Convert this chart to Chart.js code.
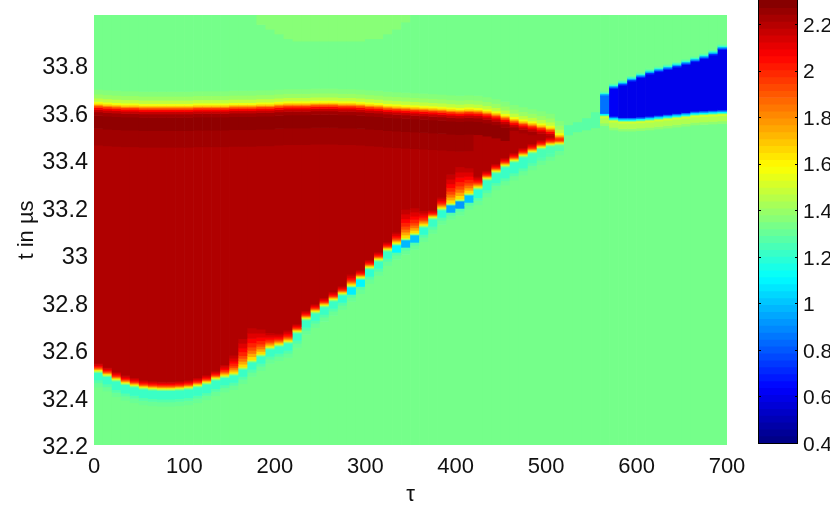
<!DOCTYPE html>
<html>
<head>
<meta charset="utf-8">
<title>t vs tau</title>
<script src="https://cdn.jsdelivr.net/npm/chart.js@4"></script>
<style>
    html, body { margin: 0; background: #fff; overflow: hidden; }
    canvas { position: absolute; top: 0; }
    #mapChart { left: 0; }
    #barChart { left: 745px; }
</style>
</head>
<body>
<canvas id="mapChart" width="745" height="510"></canvas>
<canvas id="barChart" width="85" height="510"></canvas>
<script>
const xTicks = [0, 100, 200, 300, 400, 500, 600, 700];
const yTicks = [32.2, 32.4, 32.6, 32.8, 33, 33.2, 33.4, 33.6, 33.8];
const barTicks = [0.4, 0.6, 0.8, 1, 1.2, 1.4, 1.6, 1.8, 2, 2.2];

const tauColumns = [5, 15, 25, 35, 45, 55, 65, 75, 85, 95, 105, 115, 125, 135, 145, 155, 165, 175, 185, 195,
    205, 215, 225, 235, 245, 255, 265, 275, 285, 295, 305, 315, 325, 335, 345, 355, 365, 375, 385, 395,
    405, 415, 425, 435, 445, 455, 465, 475, 485, 495, 505, 515, 525, 535, 545, 555, 565, 575, 585, 595,
    605, 615, 625, 635, 645, 655, 665, 675, 685, 695];

const backgroundValue = 1.33;

// upper rim of the red region (yellow level), one per column up to the tip
const redTop = [33.632, 33.629, 33.627, 33.625, 33.625, 33.623, 33.623, 33.623, 33.623, 33.623,
    33.623, 33.625, 33.625, 33.625, 33.625, 33.627, 33.627, 33.627, 33.629, 33.629,
    33.632, 33.634, 33.634, 33.634, 33.636, 33.636, 33.636, 33.634, 33.634, 33.632,
    33.629, 33.627, 33.623, 33.621, 33.619, 33.617, 33.615, 33.613, 33.611, 33.608,
    33.606, 33.608, 33.606, 33.600, 33.592, 33.581, 33.568, 33.558, 33.550, 33.541,
    33.531, 33.5];

// lower rim of the red region (yellow level)
const redBottom = [32.514, 32.497, 32.478, 32.463, 32.453, 32.444, 32.44, 32.438, 32.438, 32.44,
    32.444, 32.453, 32.465, 32.482, 32.493, 32.503, 32.528, 32.558, 32.583, 32.613,
    32.625, 32.638, 32.68, 32.735, 32.764, 32.79, 32.815, 32.84, 32.874, 32.907,
    32.95, 32.983, 33.025, 33.051, 33.072, 33.093, 33.126, 33.16, 33.198, 33.219,
    33.236, 33.261, 33.286, 33.324, 33.354, 33.379, 33.4, 33.421, 33.438, 33.455,
    33.467, 33.471];

// how much wider the orange rim is in the staircase steps
const rimSpread = [1, 1, 1, 1, 1, 1, 1, 1, 1, 1,
    1, 1, 1, 1, 1.5, 2.5, 4, 4.5, 3.5, 2,
    1.5, 1.5, 1, 1, 1, 1, 1, 1, 1.5, 1,
    1, 1, 1, 1.5, 4, 3.5, 2, 1, 1.5, 4,
    4.5, 3.5, 1.5, 1, 1, 1, 1, 1, 1, 1,
    1, 1];

// thickness of the cyan strip under the rim, and its value
const cyanDepth = [0.04, 0.04, 0.045, 0.045, 0.045, 0.045, 0.045, 0.045, 0.045, 0.045,
    0.045, 0.045, 0.045, 0.045, 0.04, 0.04, 0.04, 0.04, 0.04, 0.04,
    0.04, 0.04, 0.04, 0.04, 0.04, 0.04, 0.04, 0.04, 0.04, 0.04,
    0.04, 0.04, 0.04, 0.04, 0.04, 0.04, 0.04, 0.04, 0.04, 0.04,
    0.04, 0.04, 0.045, 0.05, 0.05, 0.055, 0.055, 0.055, 0.05, 0.045,
    0.04, 0.02];
const cyanValue = [1.22, 1.22, 1.22, 1.22, 1.22, 1.22, 1.22, 1.22, 1.22, 1.22,
    1.22, 1.22, 1.22, 1.22, 1.22, 1.22, 1.22, 1.22, 1.22, 1.22,
    1.22, 1.22, 1.22, 1.22, 1.22, 1.22, 1.22, 1.2, 1.08, 1.1,
    1.2, 1.22, 1.22, 1.1, 0.98, 1, 1.2, 1.22, 1.2, 0.95,
    0.92, 1, 1.2, 1.22, 1.22, 1.22, 1.22, 1.22, 1.24, 1.25,
    1.26, 1.28];

// value steps above and below the red rims, offsets in t from the rim
const topRampOffsets = [-0.17, -0.10, -0.045, -0.03, -0.02, -0.012, -0.005, 0, 0.006, 0.014, 0.028, 0.045, 0.065];
const topRampValues = [2.24, 2.27, 2.24, 2.17, 2.07, 1.95, 1.82, 1.68, 1.56, 1.47, 1.4, 1.36, 1.33];
const rimRampOffsets = [0.003, 0.006, 0.009, 0.012, 0.016, 0.02, 0.025, 0.03];
const rimRampValues = [1.75, 1.85, 1.93, 2, 2.06, 2.12, 2.17, 2.21];
const bandEndTau = 470;

// blue blob on the right
const blueTaus = [565, 575, 585, 595, 605, 615, 625, 635, 645, 655, 665, 675, 685, 695];
const blueTop = [33.678, 33.712, 33.726, 33.743, 33.758, 33.773, 33.783, 33.792, 33.802, 33.813, 33.825, 33.838, 33.853, 33.876];
const blueBottom = [33.589, 33.571, 33.566, 33.566, 33.568, 33.571, 33.575, 33.579, 33.583, 33.587, 33.592, 33.594, 33.596, 33.598];
const blueCore = [0.85, 0.62, 0.6, 0.6, 0.6, 0.6, 0.6, 0.6, 0.6, 0.6, 0.6, 0.6, 0.6, 0.6];
const blueBelowOffsets = [-0.045, -0.034, -0.012, -0.004, 0, 0.006, 0.012];
const blueBelowValues = [1.38, 1.44, 1.5, 1.32, 1.1, 0.85, 0];
const blueAboveOffsets = [-0.012, -0.006, 0, 0.006, 0.012];
const blueAboveValues = [0.72, 0.95, 1.2, 1.3, 1.33];

// pale teal link between the tip and the blob
const bridgeTaus = [525, 535, 545, 555];
const bridgeLow = [33.505, 33.518, 33.526, 33.535];
const bridgeHigh = [33.547, 33.56, 33.577, 33.602];
const bridgeValue = 1.28;

// faint lighter patch at the very top
const paleTaus = [185, 195, 205, 215, 225, 235, 245, 255, 265, 275, 285, 295, 305, 315, 325, 335, 345];
const paleStart = [33.97, 33.95, 33.93, 33.91, 33.9, 33.9, 33.9, 33.9, 33.9, 33.9, 33.9, 33.9, 33.91, 33.91, 33.93, 33.95, 33.98];
const paleValue = 1.365;

const barEdges = [0.4, 0.43, 0.459, 0.489, 0.519, 0.548, 0.578, 0.608, 0.638, 0.667, 0.697, 0.727, 0.756,
    0.786, 0.816, 0.845, 0.875, 0.905, 0.934, 0.964, 0.994, 1.023, 1.053, 1.083, 1.113, 1.142, 1.172, 1.202,
    1.231, 1.261, 1.291, 1.32, 1.35, 1.38, 1.409, 1.439, 1.469, 1.498, 1.528, 1.558, 1.588, 1.617, 1.647,
    1.677, 1.706, 1.736, 1.766, 1.795, 1.825, 1.855, 1.884, 1.914, 1.944, 1.973, 2.003, 2.033, 2.063, 2.092,
    2.122, 2.152, 2.181, 2.211, 2.241, 2.27, 2.303];

const Y_MIN = 32.2;
const Y_MAX = 34.01;
const FAMILY = '"Liberation Sans", Arial, sans-serif';

function jetColor(v) {
    const t = Math.min(1, Math.max(0, (v - 0.4) / 1.9));
    const part = x => Math.round(255 * Math.min(1, Math.max(0, x)));
    const r = part(Math.min(4 * t - 1.5, -4 * t + 4.5));
    const g = part(Math.min(4 * t - 0.5, -4 * t + 3.5));
    const b = part(Math.min(4 * t + 0.5, -4 * t + 2.5));
    return `rgb(${r},${g},${b})`;
}

function columnStops(i) {
    const tau = tauColumns[i];
    let stops = [[Y_MIN, backgroundValue]];

    if (i < redTop.length) {
        const rimLow = redBottom[i];
        const rimHigh = redTop[i];
        const mid = (rimLow + rimHigh) / 2;
        const base = rimLow - cyanDepth[i];
        const lower = [
            [base - 0.03, 1.31],
            [base - 0.012, 1.27],
            [base, cyanValue[i]],
            [rimLow - 0.009, 1.35],
            [rimLow - 0.004, 1.5],
            [rimLow, 1.65]
        ];
        rimRampOffsets.forEach((offset, k) => {
            lower.push([rimLow + offset * rimSpread[i], rimRampValues[k]]);
        });
        lower.filter(s => s[0] < mid).forEach(s => stops.push(s));
        topRampOffsets.forEach((offset, k) => {
            const t = rimHigh + offset;
            if (t >= mid) {
                const value = tau > bandEndTau ? Math.min(topRampValues[k], 2.23) : topRampValues[k];
                stops.push([t, value]);
            }
        });
    }

    const b = blueTaus.indexOf(tau);
    if (b >= 0) {
        const mid = (blueBottom[b] + blueTop[b]) / 2;
        blueBelowOffsets.forEach((offset, k) => {
            const t = blueBottom[b] + offset;
            if (t < mid) stops.push([t, Math.max(blueBelowValues[k], blueCore[b])]);
        });
        blueAboveOffsets.forEach((offset, k) => {
            const t = blueTop[b] + offset;
            if (t >= mid) stops.push([t, Math.max(blueAboveValues[k], blueCore[b])]);
        });
    }

    const link = bridgeTaus.indexOf(tau);
    if (link >= 0 && i >= redTop.length) {
        stops.push([bridgeLow[link], bridgeValue]);
        stops.push([bridgeHigh[link], backgroundValue]);
    }

    const pale = paleTaus.indexOf(tau);
    if (pale >= 0) stops.push([paleStart[pale], paleValue]);

    return stops.sort((a, c) => a[0] - c[0]);
}

function buildMapCells() {
    const cells = [];
    tauColumns.forEach((tau, i) => {
        const stops = columnStops(i);
        stops.forEach((stop, k) => {
            const next = k + 1 < stops.length ? stops[k + 1][0] : Y_MAX;
            if (next > stop[0]) cells.push({ x: tau, y: [stop[0], next], v: stop[1] });
        });
    });
    return cells;
}

function buildBarCells() {
    const cells = [];
    for (let i = 0; i + 1 < barEdges.length; i++) {
        cells.push({ x: 'c', y: [barEdges[i], barEdges[i + 1]], v: (barEdges[i] + barEdges[i + 1]) / 2 });
    }
    return cells;
}

// labels may overhang the plot, the plot box itself must stay where it is
function fixBox(scale, size) {
    if (scale.isHorizontal()) {
        scale.height = size;
    } else {
        scale.width = size;
    }
    scale.paddingLeft = 0;
    scale.paddingRight = 0;
    scale.paddingTop = 0;
    scale.paddingBottom = 0;
}

new Chart(document.getElementById('mapChart'), {
    type: 'bar',
    data: {
        datasets: [{
            data: buildMapCells(),
            backgroundColor: ctx => jetColor(ctx.raw.v),
            barPercentage: 1,
            categoryPercentage: 1,
            grouped: false
        }]
    },
    options: {
        responsive: false,
        animation: false,
        layout: { padding: { top: 15, right: 18 } },
        plugins: { legend: { display: false }, tooltip: { enabled: false } },
        scales: {
            x: {
                type: 'linear',
                offset: false,
                min: 0,
                max: 700,
                afterBuildTicks: scale => { scale.ticks = xTicks.map(value => ({ value })); },
                afterFit: scale => fixBox(scale, 65),
                grid: { display: false, drawTicks: false },
                border: { display: false },
                ticks: { color: '#111', font: { family: FAMILY, size: 22 }, padding: 9, maxRotation: 0, autoSkip: false },
                title: { display: true, text: 'τ', color: '#111', font: { family: FAMILY, size: 22 }, padding: { top: 0, bottom: 2 } }
            },
            y: {
                type: 'linear',
                min: Y_MIN,
                max: Y_MAX,
                afterBuildTicks: scale => { scale.ticks = yTicks.map(value => ({ value })); },
                afterFit: scale => fixBox(scale, 94),
                grid: { display: false, drawTicks: false },
                border: { display: false },
                ticks: { color: '#111', font: { family: FAMILY, size: 23.5 }, padding: 6, labelOffset: 3, autoSkip: false, callback: value => String(value) },
                title: { display: true, text: 't in µs', color: '#111', font: { family: FAMILY, size: 22 }, padding: { top: 14, bottom: 0 } }
            }
        }
    }
});

const barFrame = {
    id: 'barFrame',
    afterDraw(chart) {
        const { ctx, chartArea, scales } = chart;
        ctx.save();
        ctx.strokeStyle = '#000';
        ctx.lineWidth = 1;
        ctx.beginPath();
        ctx.moveTo(chartArea.left + 0.5, chartArea.top);
        ctx.lineTo(chartArea.left + 0.5, chartArea.bottom + 0.5);
        ctx.lineTo(chartArea.right - 0.5, chartArea.bottom + 0.5);
        ctx.lineTo(chartArea.right - 0.5, chartArea.top);
        barTicks.forEach(value => {
            const y = Math.round(scales.y.getPixelForValue(value)) + 0.5;
            ctx.moveTo(chartArea.left, y);
            ctx.lineTo(chartArea.left + 3, y);
            ctx.moveTo(chartArea.right - 3, y);
            ctx.lineTo(chartArea.right, y);
        });
        ctx.stroke();
        ctx.restore();
    }
};

new Chart(document.getElementById('barChart'), {
    type: 'bar',
    data: {
        labels: ['c'],
        datasets: [{
            data: buildBarCells(),
            backgroundColor: ctx => jetColor(ctx.raw.v),
            barPercentage: 1,
            categoryPercentage: 1,
            grouped: false
        }]
    },
    plugins: [barFrame],
    options: {
        responsive: false,
        animation: false,
        layout: { padding: { left: 13, top: 0, bottom: 67 } },
        plugins: { legend: { display: false }, tooltip: { enabled: false } },
        scales: {
            x: { display: false },
            y: {
                position: 'right',
                min: 0.4,
                max: 2.303,
                afterBuildTicks: scale => { scale.ticks = barTicks.map(value => ({ value })); },
                afterFit: scale => fixBox(scale, 32),
                grid: { display: false, drawTicks: false },
                border: { display: false },
                ticks: { color: '#111', font: { family: FAMILY, size: 21 }, padding: 5, labelOffset: 2, autoSkip: false, callback: value => String(value) }
            }
        }
    }
});
</script>
</body>
</html>
